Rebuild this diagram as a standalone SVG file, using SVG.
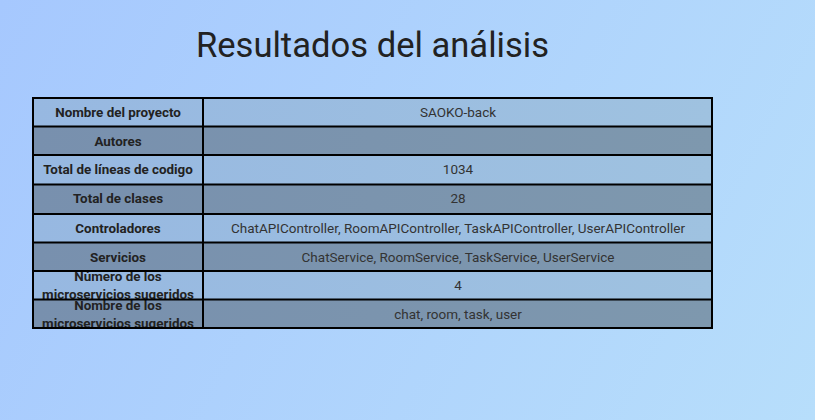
<svg xmlns="http://www.w3.org/2000/svg" width="815" height="420" viewBox="0 0 815 420">
  <defs>
    <linearGradient id="bg" x1="0" y1="0" x2="815" y2="420" gradientUnits="userSpaceOnUse">
      <stop offset="0" stop-color="#a6c8fe"/>
      <stop offset="1" stop-color="#b7defb"/>
    </linearGradient>
    <linearGradient id="light" x1="33" y1="0" x2="712" y2="0" gradientUnits="userSpaceOnUse">
      <stop offset="0" stop-color="#97b8e1"/>
      <stop offset="1" stop-color="#9fc2e0"/>
    </linearGradient>
    <linearGradient id="dark" x1="33" y1="0" x2="712" y2="0" gradientUnits="userSpaceOnUse">
      <stop offset="0" stop-color="#7890ae"/>
      <stop offset="1" stop-color="#7e98ae"/>
    </linearGradient>
    <clipPath id="c7"><rect x="33" y="271" width="170" height="28.5"/></clipPath>
    <clipPath id="c8"><rect x="33" y="299.5" width="170" height="28.5"/></clipPath>
  </defs>
  <style>
    .title { font-family: Roboto, "Liberation Sans", sans-serif; font-size: 34.6px; fill: #222; }
    .lab { font-family: Roboto, "Liberation Sans", sans-serif; font-size: 13.4px; font-weight: bold; fill: #222; text-anchor: middle; }
    .val { font-family: Roboto, "Liberation Sans", sans-serif; font-size: 13.5px; fill: #333; text-anchor: middle; }
    .l { fill: url(#light); }
    .d { fill: url(#dark); }
    .grid line { stroke: #000; stroke-width: 2; }
  </style>
  <rect width="815" height="420" fill="url(#bg)"/>
  <text class="title" x="372.5" y="56.5" text-anchor="middle">Resultados del análisis</text>

  <g id="table">
    <g id="row-nombre">
      <rect class="l" x="33" y="98" width="679" height="28.5"/>
      <text class="lab" x="118" y="116.5">Nombre del proyecto</text>
      <text class="val" x="458" y="116.5">SAOKO-back</text>
    </g>
    <g id="row-autores">
      <rect class="d" x="33" y="126.5" width="679" height="28.5"/>
      <text class="lab" x="118" y="145.5">Autores</text>
    </g>
    <g id="row-lineas">
      <rect class="l" x="33" y="155" width="679" height="29.5"/>
      <text class="lab" x="118" y="174">Total de líneas de codigo</text>
      <text class="val" x="458" y="174">1034</text>
    </g>
    <g id="row-clases">
      <rect class="d" x="33" y="184.5" width="679" height="29.5"/>
      <text class="lab" x="118" y="203">Total de clases</text>
      <text class="val" x="458" y="203">28</text>
    </g>
    <g id="row-controladores">
      <rect class="l" x="33" y="214" width="679" height="28.5"/>
      <text class="lab" x="118" y="233">Controladores</text>
      <text class="val" x="458" y="233">ChatAPIController, RoomAPIController, TaskAPIController, UserAPIController</text>
    </g>
    <g id="row-servicios">
      <rect class="d" x="33" y="242.5" width="679" height="28.5"/>
      <text class="lab" x="118" y="261.5">Servicios</text>
      <text class="val" x="458" y="261.5">ChatService, RoomService, TaskService, UserService</text>
    </g>
    <g id="row-numero">
      <rect class="l" x="33" y="271" width="679" height="28.5"/>
      <g clip-path="url(#c7)">
        <text class="lab" x="118" y="281">Número de los</text>
        <text class="lab" x="118" y="299">microservicios sugeridos</text>
      </g>
      <text class="val" x="458" y="290">4</text>
    </g>
    <g id="row-nombres-ms">
      <rect class="d" x="33" y="299.5" width="679" height="28.5"/>
      <g clip-path="url(#c8)">
        <text class="lab" x="118" y="309.5">Nombre de los</text>
        <text class="lab" x="118" y="327.5">microservicios sugeridos</text>
      </g>
      <text class="val" x="458" y="318.5">chat, room, task, user</text>
    </g>
    <g class="grid">
      <line x1="32" y1="98" x2="713" y2="98"/>
      <line x1="32" y1="126.5" x2="713" y2="126.5"/>
      <line x1="32" y1="155" x2="713" y2="155"/>
      <line x1="32" y1="184.5" x2="713" y2="184.5"/>
      <line x1="32" y1="214" x2="713" y2="214"/>
      <line x1="32" y1="242.5" x2="713" y2="242.5"/>
      <line x1="32" y1="271" x2="713" y2="271"/>
      <line x1="32" y1="299.5" x2="713" y2="299.5"/>
      <line x1="32" y1="328" x2="713" y2="328"/>
      <line x1="33" y1="97" x2="33" y2="329"/>
      <line x1="203" y1="97" x2="203" y2="329"/>
      <line x1="712" y1="97" x2="712" y2="329"/>
    </g>
  </g>
</svg>
